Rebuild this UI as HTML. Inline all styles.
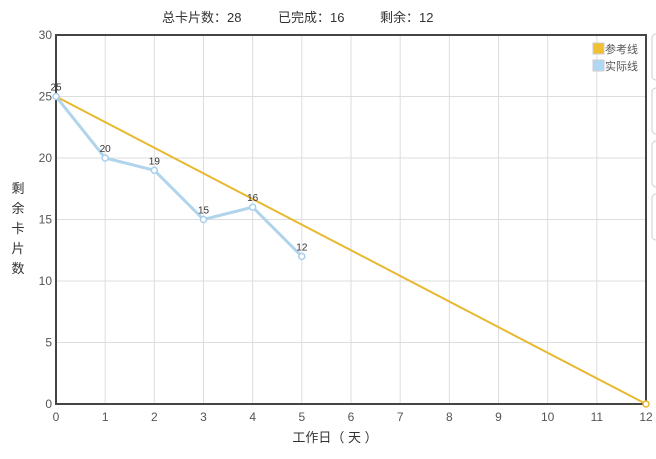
<!DOCTYPE html>
<html><head><meta charset="utf-8"><style>
body{margin:0;background:#fff;width:656px;height:454px;overflow:hidden;font-family:"Liberation Sans","Noto Sans CJK SC",sans-serif;}
</style></head><body>
<svg id="c" width="656" height="454" xmlns="http://www.w3.org/2000/svg" font-family="Liberation Sans, Noto Sans CJK SC, sans-serif">
<g font-size="13" fill="#333">
 <text x="162" y="22">总卡片数：28</text>
 <text x="278" y="22">已完成：16</text>
 <text x="380" y="22">剩余：12</text>
</g>
<g id="grid"></g>
<g id="marks"></g>
<g>
 <g><rect x="593" y="43" width="11" height="11" fill="#f0c030" stroke="#ccc"/><text x="605" y="53" font-size="11" fill="#555">参考线</text></g>
 <g><rect x="593" y="60" width="11" height="11" fill="#b0d8f5" stroke="#ccc"/><text x="605" y="70" font-size="11" fill="#555">实际线</text></g>
</g>
<g fill="none" stroke="#ccc">
 <rect x="652" y="34" width="12" height="46" rx="4"/>
 <rect x="652" y="88" width="12" height="46" rx="4"/>
 <rect x="652" y="141" width="12" height="46" rx="4"/>
 <rect x="652" y="194" width="12" height="46" rx="4"/>
</g>
<text x="335" y="442" font-size="13" fill="#333" text-anchor="middle">工作日（ 天 ）</text>
<g font-size="13" fill="#333" text-anchor="middle">
 <text x="18" y="193">剩</text><text x="18" y="213">余</text><text x="18" y="233">卡</text><text x="18" y="253">片</text><text x="18" y="273">数</text>
</g>
</svg>
<script>
const xTicks=[0,1,2,3,4,5,6,7,8,9,10,11,12];
const yTicks=[0,5,10,15,20,25,30];
const refDays=[0,12];
const refValues=[25,0];
const actDays=[0,1,2,3,4,5];
const actValues=[25,20,19,15,16,12];
const L=56,R=646,T=35,B=404;
const xs=d=>L+(R-L)*d/12, ys=v=>B-(B-T)*v/30;
const NS="http://www.w3.org/2000/svg";
function mk(tag,attrs,parent,txt){const e=document.createElementNS(NS,tag);for(const k in attrs)e.setAttribute(k,attrs[k]);if(txt!==undefined)e.textContent=txt;parent.appendChild(e);return e;}
const g=document.getElementById('grid'),m=document.getElementById('marks');
xTicks.forEach(t=>{
 const l=mk('line',{x1:xs(t),x2:xs(t),y1:T,y2:B,stroke:'#ddd'},g);
 
 
 const tx=mk('text',{x:xs(t),y:B+17,'font-size':12,fill:'#555','text-anchor':'middle'},g,t);
 
 
});
yTicks.forEach(t=>{
 const l=mk('line',{x1:L,x2:R,y1:ys(t),y2:ys(t),stroke:'#ddd'},g);
 
 
 const tx=mk('text',{x:L-4,y:ys(t)+4,'font-size':12,fill:'#555','text-anchor':'end'},g,t);
 
 
});
const frame=mk('rect',{x:L,y:T,width:R-L,height:B-T,fill:'none',stroke:'#444','stroke-width':2},g);


const ref=mk('polyline',{points:refDays.map((d,i)=>xs(d)+','+ys(refValues[i])).join(' '),fill:'none',stroke:'#e8b830','stroke-width':2},m);


const rp=mk('circle',{cx:xs(refDays[1]),cy:ys(refValues[1]),r:3,fill:'#fff',stroke:'#e8b830','stroke-width':1.5},m);


const act=mk('polyline',{points:actDays.map((d,i)=>xs(d)+','+ys(actValues[i])).join(' '),fill:'none',stroke:'#b0d4ec','stroke-width':3},m);


actDays.forEach((d,i)=>{
 const c=mk('circle',{cx:xs(d),cy:ys(actValues[i]),r:3,fill:'#fff',stroke:'#a8d0ee','stroke-width':1.5},m);
 
 
 const t=mk('text',{x:xs(d),y:ys(actValues[i])-6,'font-size':10,fill:'#333','text-anchor':'middle'},m,actValues[i]);
 
 
});
</script>
</body></html>
